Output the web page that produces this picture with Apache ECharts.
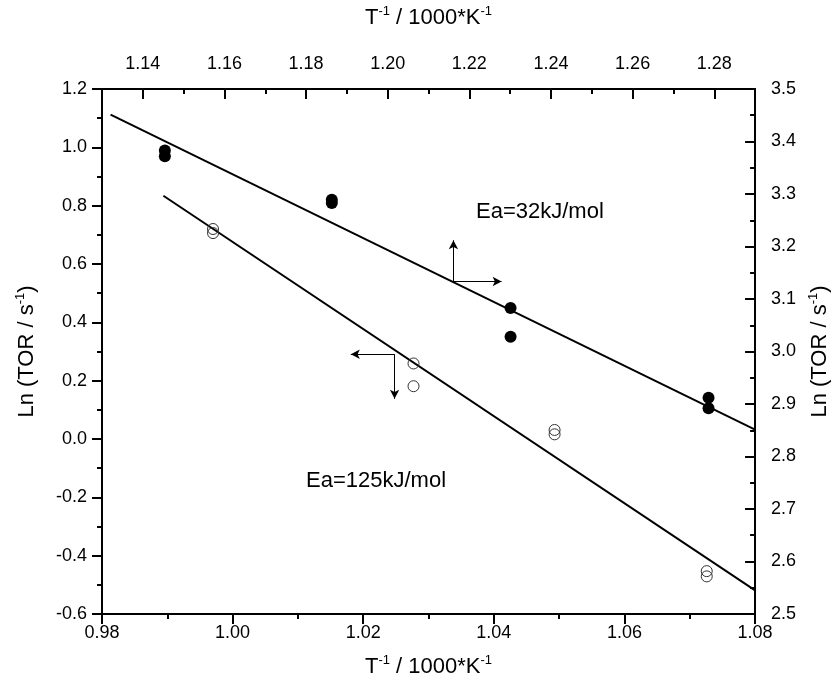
<!DOCTYPE html>
<html>
<head>
<meta charset="utf-8">
<script src="https://cdn.jsdelivr.net/npm/echarts@6/dist/echarts.min.js"></script>
<style>
  html, body { margin: 0; padding: 0; background: #fff; }
  #chart { width: 839px; height: 696px; }
</style>
</head>
<body>
<div id="chart"></div>
<script>
// open circles: bottom axis (T^-1) vs left axis
const openX = [0.997, 0.997, 1.0277, 1.0277, 1.0493, 1.0493, 1.0726, 1.0726];
const openY = [0.72, 0.706, 0.259, 0.181, 0.031, 0.016, -0.453, -0.471];
// filled circles: top axis vs right axis
const filledX = [1.1454, 1.1454, 1.1863, 1.1863, 1.2301, 1.2301, 1.2786, 1.2786];
const filledY = [3.383, 3.372, 3.289, 3.283, 3.083, 3.028, 2.912, 2.892];
// fitted lines (end points)
const openFitX = [0.9894, 1.08];
const openFitY = [0.834, -0.519];
const filledFitX = [1.1321, 1.29];
const filledFitY = [3.451, 2.851];
// arrows: corner, then the two tips
const filledArrow = [[1.2161, 3.1334], [1.2161, 3.2119], [1.2279, 3.1334]];
const openArrow = [[1.0248, 0.2907], [1.0181, 0.2907], [1.0248, 0.1378]];
// top axis labelled ticks
const topTicks = [1.14, 1.16, 1.18, 1.20, 1.22, 1.24, 1.26, 1.28];

const FONT = '"Liberation Sans", Arial, sans-serif';
const zip = (xs, ys) => xs.map((x, i) => [x, ys[i]]);
const arrowLines = a => [
    [{ coord: a[0] }, { coord: a[1] }],
    [{ coord: a[0] }, { coord: a[2] }]
];

const nameStyle = {
    color: '#000',
    fontFamily: FONT,
    fontSize: 22,
    rich: {
        b: { fontSize: 22, fontFamily: FONT, color: '#000', lineHeight: 26 },
        s: { fontSize: 13, fontFamily: FONT, color: '#000', verticalAlign: 'top', lineHeight: 26 }
    }
};
const lineStyleAxis = { color: '#000', width: 2 };
const tickStyle = { color: '#000', width: 2 };
const labelStyle = { color: '#000', fontFamily: FONT, fontSize: 18 };

const chart = echarts.init(document.getElementById('chart'));
chart.setOption({
    animation: false,
    backgroundColor: '#fff',
    grid: { left: 102, right: 81, top: 84, bottom: 82 },
    xAxis: [
        {
            type: 'value',
            position: 'bottom',
            min: 0.98,
            max: 1.08,
            interval: 0.02,
            name: '{b|T}{s|-1}{b| / 1000*K}{s|-1}',
            nameLocation: 'middle',
            nameGap: 40,
            nameTextStyle: nameStyle,
            axisLine: { onZero: false, lineStyle: lineStyleAxis },
            axisTick: { length: 10, lineStyle: tickStyle },
            minorTick: { show: true, splitNumber: 2, length: 5, lineStyle: tickStyle },
            axisLabel: { ...labelStyle, margin: 10, formatter: v => v.toFixed(2) },
            splitLine: { show: false }
        },
        {
            type: 'value',
            position: 'top',
            min: 1.13,
            max: 1.29,
            name: '{b|T}{s|-1}{b| / 1000*K}{s|-1}',
            nameLocation: 'middle',
            nameGap: 58,
            nameTextStyle: nameStyle,
            axisLine: { onZero: false, lineStyle: lineStyleAxis },
            axisTick: { inside: true, length: 10, customValues: topTicks, lineStyle: tickStyle },
            axisLabel: { ...labelStyle, margin: 16, customValues: topTicks, formatter: v => v.toFixed(2) },
            splitLine: { show: false }
        },
        {
            type: 'value',
            position: 'top',
            min: 1.13,
            max: 1.29,
            interval: 0.01,
            axisLine: { show: false, onZero: false },
            axisTick: { inside: true, length: 5, lineStyle: tickStyle },
            axisLabel: { show: false },
            splitLine: { show: false }
        }
    ],
    yAxis: [
        {
            type: 'value',
            position: 'left',
            min: -0.6,
            max: 1.2,
            interval: 0.2,
            name: '{b|Ln (TOR / s}{s|-1}{b|)}',
            nameLocation: 'middle',
            nameRotate: 90,
            nameGap: 62,
            nameTextStyle: nameStyle,
            axisLine: { onZero: false, lineStyle: lineStyleAxis },
            axisTick: { length: 10, lineStyle: tickStyle },
            minorTick: { show: true, splitNumber: 2, length: 5, lineStyle: tickStyle },
            axisLabel: { ...labelStyle, margin: 15, formatter: v => v.toFixed(1) },
            splitLine: { show: false }
        },
        {
            type: 'value',
            position: 'right',
            min: 2.5,
            max: 3.5,
            interval: 0.1,
            name: '{b|Ln (TOR / s}{s|-1}{b|)}',
            nameLocation: 'middle',
            nameRotate: 90,
            nameGap: 42,
            nameTextStyle: nameStyle,
            axisLine: { onZero: false, lineStyle: lineStyleAxis },
            axisTick: { inside: true, length: 10, lineStyle: tickStyle },
            minorTick: { show: true, splitNumber: 2, length: 5, lineStyle: tickStyle },
            axisLabel: { ...labelStyle, margin: 16, formatter: v => v.toFixed(1) },
            splitLine: { show: false }
        }
    ],
    series: [
        {
            name: 'open fit',
            type: 'line',
            xAxisIndex: 0,
            yAxisIndex: 0,
            data: zip(openFitX, openFitY),
            showSymbol: false,
            lineStyle: { color: '#000', width: 2 },
            markLine: {
                silent: true,
                symbol: ['none', 'arrow'],
                symbolSize: [7, 9],
                label: { show: false },
                lineStyle: { color: '#000', width: 1, type: 'solid' },
                data: arrowLines(openArrow)
            }
        },
        {
            name: 'filled fit',
            type: 'line',
            xAxisIndex: 1,
            yAxisIndex: 1,
            data: zip(filledFitX, filledFitY),
            showSymbol: false,
            lineStyle: { color: '#000', width: 2 },
            markLine: {
                silent: true,
                symbol: ['none', 'arrow'],
                symbolSize: [7, 9],
                label: { show: false },
                lineStyle: { color: '#000', width: 1, type: 'solid' },
                data: arrowLines(filledArrow)
            }
        },
        {
            name: 'open',
            type: 'scatter',
            xAxisIndex: 0,
            yAxisIndex: 0,
            symbol: 'circle',
            symbolSize: 11,
            itemStyle: { color: 'rgba(0,0,0,0)', borderColor: '#333', borderWidth: 1, opacity: 1 },
            data: zip(openX, openY),
            z: 5
        },
        {
            name: 'filled',
            type: 'scatter',
            xAxisIndex: 1,
            yAxisIndex: 1,
            symbol: 'circle',
            symbolSize: 12,
            itemStyle: { color: '#000', opacity: 1 },
            data: zip(filledX, filledY),
            z: 5
        }
    ],
    graphic: [
        {
            type: 'text', left: 476, top: 201,
            style: { text: 'Ea=32kJ/mol', font: '22px ' + FONT, fill: '#000' }
        },
        {
            type: 'text', left: 306, top: 470,
            style: { text: 'Ea=125kJ/mol', font: '22px ' + FONT, fill: '#000' }
        }
    ]
});
</script>
</body>
</html>
